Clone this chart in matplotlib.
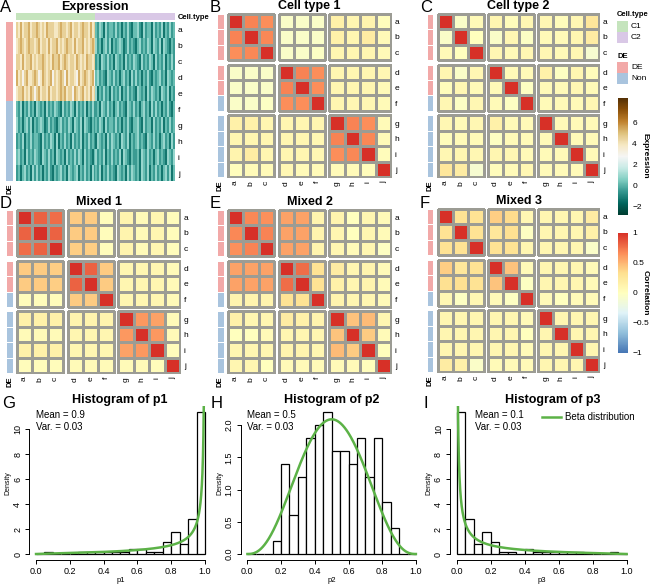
import math
import numpy as np
import matplotlib
matplotlib.use("Agg")
import matplotlib.pyplot as plt
from matplotlib.colors import LinearSegmentedColormap, ListedColormap, Normalize
from matplotlib.cm import ScalarMappable

plt.rcParams['font.family'] = ['Liberation Sans', 'DejaVu Sans']

# ---------------- data ----------------
row_names = list("abcdefghij")
row_groups = [3, 3, 4]
de_status = [0, 0, 0, 0, 0, 1, 1, 1, 1, 1]   # 0 = DE, 1 = Non

# expression, digit codes looked up in expr_levels; C1 half then C2 half
expr_levels = [-1.3, -0.5, 0.2, 0.9, 1.7, 2.2, 3.0, 3.8, 4.5, 5.3]
expr_c1 = [
    "8797889788 9878798887 7898878978 8789887978",
    "7898789887 8978879788 9787898879 7889787898",
    "8879788978 7889878798 8978987887 9878798878",
    "9786897789 8679878968 7898697887 6978987896",
    "7889787986 8978879788 7898978869 8789787978",
    "2130213120 3212031213 2103121320 3121302131",
    "3120231302 1232013121 0231213203 2130321021",
    "1213021312 2103121320 3021312031 2130213121",
    "2312031213 2103213120 3212031213 1320312102",
    "1202312031 3120213102 1231203212 3021312031",
]
expr_c2 = [
    "2132031221 3120213102 2310312203 1213021312",
    "3120231302 1232013121 0231213203 2130321021",
    "1203213120 3212031213 2103121320 3121302131",
    "2312103213 1202312031 3120213102 1231203212",
    "3021312031 2130213121 0321203132 1203213021",
    "1203213120 2312103213 1202312031 3120213102",
    "2132031221 3120213102 2310312203 1213021312",
    "0321203132 1203213021 2312103213 1202312031",
    "3121302131 2130321021 1203213120 2312103213",
    "2130213121 0321203132 1203213021 3120231302",
]

corr_celltype1 = [
    [1.00, 0.70, 0.66, -0.05, -0.05, -0.05, 0.15, 0.10, 0.12, 0.02],
    [0.70, 1.00, 0.68, -0.05, -0.05, -0.05, 0.15, 0.10, 0.20, 0.05],
    [0.66, 0.68, 1.00, -0.05, -0.05, -0.03, 0.10, 0.10, 0.10, 0.05],
    [-0.05, -0.05, -0.05, 1.00, 0.70, 0.66, 0.10, 0.10, 0.10, 0.08],
    [-0.05, -0.05, -0.05, 0.70, 1.00, 0.66, 0.10, 0.10, 0.10, 0.05],
    [-0.05, -0.05, -0.03, 0.66, 0.66, 1.00, 0.10, 0.08, 0.08, 0.05],
    [0.15, 0.15, 0.10, 0.10, 0.10, 0.10, 1.00, 0.70, 0.66, 0.05],
    [0.10, 0.10, 0.10, 0.10, 0.10, 0.08, 0.70, 1.00, 0.68, 0.05],
    [0.12, 0.20, 0.10, 0.10, 0.10, 0.08, 0.66, 0.68, 1.00, 0.03],
    [0.02, 0.05, 0.05, 0.08, 0.05, 0.05, 0.05, 0.05, 0.03, 1.00],
]
corr_celltype2 = [
    [1.00, -0.05, 0.05, 0.10, 0.03, 0.08, 0.08, 0.03, 0.08, 0.25],
    [-0.05, 1.00, 0.00, -0.05, 0.08, -0.03, 0.05, 0.05, 0.10, 0.20],
    [0.05, 0.00, 1.00, 0.08, 0.05, 0.08, 0.08, 0.05, 0.08, -0.10],
    [0.10, -0.05, 0.08, 1.00, 0.05, 0.05, 0.15, -0.02, 0.10, 0.03],
    [0.03, 0.08, 0.05, 0.05, 1.00, -0.02, 0.05, 0.05, 0.08, 0.05],
    [0.08, -0.03, 0.08, 0.05, -0.02, 1.00, 0.05, 0.05, 0.05, 0.08],
    [0.08, 0.05, 0.08, 0.15, 0.05, 0.05, 1.00, 0.05, 0.05, 0.05],
    [0.03, 0.05, 0.05, -0.02, 0.05, 0.05, 0.05, 1.00, 0.05, 0.05],
    [0.08, 0.10, 0.08, 0.10, 0.08, 0.05, 0.05, 0.05, 1.00, 0.05],
    [0.25, 0.20, -0.10, 0.03, 0.05, 0.08, 0.05, 0.05, 0.05, 1.00],
]
corr_mixed1 = [
    [1.00, 0.82, 0.78, 0.42, 0.42, 0.03, 0.12, 0.05, 0.10, 0.03],
    [0.82, 1.00, 0.82, 0.42, 0.42, 0.03, 0.12, 0.05, 0.10, 0.03],
    [0.78, 0.82, 1.00, 0.40, 0.40, 0.03, 0.12, 0.05, 0.10, 0.03],
    [0.42, 0.42, 0.40, 1.00, 0.82, 0.42, 0.10, 0.10, 0.10, 0.05],
    [0.42, 0.42, 0.40, 0.82, 1.00, 0.42, 0.10, 0.10, 0.10, 0.05],
    [0.03, 0.03, 0.03, 0.42, 0.42, 1.00, 0.10, 0.10, 0.10, 0.05],
    [0.15, 0.15, 0.15, 0.12, 0.12, 0.12, 1.00, 0.62, 0.58, 0.05],
    [0.05, 0.05, 0.05, 0.10, 0.10, 0.10, 0.62, 1.00, 0.62, 0.05],
    [0.15, 0.15, 0.15, 0.10, 0.10, 0.10, 0.58, 0.62, 1.00, 0.03],
    [0.03, 0.03, 0.03, 0.05, 0.05, 0.05, 0.05, 0.05, 0.03, 1.00],
]
corr_mixed2 = [
    [1.00, 0.68, 0.65, 0.58, 0.58, 0.12, 0.12, 0.00, 0.10, 0.05],
    [0.68, 1.00, 0.70, 0.58, 0.58, 0.12, 0.10, 0.00, 0.10, 0.05],
    [0.65, 0.70, 1.00, 0.58, 0.58, 0.12, 0.10, 0.05, 0.10, -0.02],
    [0.58, 0.58, 0.58, 1.00, 0.78, 0.30, 0.20, 0.10, 0.12, 0.05],
    [0.58, 0.58, 0.58, 0.78, 1.00, 0.30, 0.15, 0.10, 0.12, 0.05],
    [0.12, 0.12, 0.12, 0.30, 0.30, 1.00, 0.12, 0.10, 0.10, 0.05],
    [0.15, 0.10, 0.10, 0.20, 0.15, 0.12, 1.00, 0.45, 0.48, 0.10],
    [0.00, 0.00, 0.05, 0.10, 0.10, 0.10, 0.45, 1.00, 0.42, 0.05],
    [0.10, 0.10, 0.10, 0.12, 0.12, 0.10, 0.48, 0.42, 1.00, 0.02],
    [0.10, 0.10, 0.00, 0.05, 0.05, 0.05, 0.05, 0.05, 0.02, 1.00],
]
corr_mixed3 = [
    [1.00, 0.30, 0.30, 0.40, 0.35, 0.08, 0.10, 0.10, 0.10, 0.20],
    [0.30, 1.00, 0.30, 0.25, 0.32, -0.02, 0.10, 0.10, 0.10, 0.15],
    [0.30, 0.30, 1.00, 0.30, 0.30, 0.10, 0.10, 0.10, 0.10, -0.05],
    [0.40, 0.25, 0.30, 1.00, 0.45, 0.05, 0.10, 0.10, 0.10, 0.05],
    [0.32, 0.32, 0.30, 0.45, 1.00, -0.02, 0.10, 0.10, 0.10, 0.05],
    [0.08, -0.02, 0.08, 0.05, -0.02, 1.00, 0.05, 0.00, 0.05, 0.05],
    [0.10, 0.10, 0.10, 0.10, 0.10, 0.05, 1.00, 0.10, 0.10, 0.10],
    [0.10, 0.10, 0.10, 0.10, 0.10, 0.00, 0.10, 1.00, 0.10, 0.10],
    [0.10, 0.10, 0.10, 0.10, 0.10, 0.05, 0.10, 0.10, 1.00, 0.10],
    [0.20, 0.15, -0.05, 0.05, 0.05, 0.05, 0.10, 0.10, 0.10, 1.00],
]

bin_edges = [0.0, 0.05, 0.1, 0.15, 0.2, 0.25, 0.3, 0.35, 0.4, 0.45, 0.5,
             0.55, 0.6, 0.65, 0.7, 0.75, 0.8, 0.85, 0.9, 0.95, 1.0]
p1_density = [0.0, 0.2, 0.0, 0.0, 0.0, 0.2, 0.2, 0.2, 0.2, 0.2,
              0.2, 0.4, 0.4, 0.2, 0.2, 1.0, 1.8, 0.8, 2.8, 11.4]
p2_density = [0.0, 0.0, 0.0, 0.2, 1.4, 0.6, 1.2, 1.8, 2.0, 2.2,
              1.6, 1.6, 1.4, 1.8, 1.2, 1.8, 0.8, 0.4, 0.0, 0.0]
p3_density = [11.4, 2.8, 0.8, 1.8, 1.0, 0.2, 0.2, 0.0, 0.4, 0.2,
              0.2, 0.2, 0.2, 0.2, 0.2, 0.0, 0.0, 0.0, 0.2, 0.0]
p_means = [0.9, 0.5, 0.1]
p_var = 0.03

# ---------------- colours ----------------
col_de, col_non = "#f2a9a8", "#a9c4de"
col_c1, col_c2 = "#c5e4bd", "#d9c8e6"
grid_col = "#9c9c94"
beta_col = "#5cb247"
corr_cmap = LinearSegmentedColormap.from_list(
    "rdylbu7", ["#4575B4", "#91BFDB", "#E0F3F8", "#FFFFBF", "#FEE090", "#FC8D59", "#D73027"])
corr_norm = Normalize(-1, 1)
expr_cmap = plt.get_cmap("BrBG_r")
expr_norm = Normalize(-2.8, 8.3)

W, H = 650, 585
fig = plt.figure(figsize=(6.5, 5.85), dpi=100)


def box(x0, y0, x1, y1):
    return fig.add_axes([x0 / W, 1 - y1 / H, (x1 - x0) / W, (y1 - y0) / H])


def ftext(x, y, s, **kw):
    fig.text(x / W, 1 - y / H, s, **kw)


def clean(ax):
    for s in ax.spines.values():
        s.set_visible(False)
    ax.tick_params(length=0, labelsize=6, pad=2)


# ---------------- panel A: expression ----------------
expr = np.array([[expr_levels[int(c)] for c in (a + b).replace(" ", "")]
                 for a, b in zip(expr_c1, expr_c2)])
n_c1 = len(expr_c1[0].replace(" ", ""))
n_cols = expr.shape[1]

ax = box(16, 22, 175, 181)
ax.imshow(expr, aspect="auto", cmap=expr_cmap, norm=expr_norm, interpolation="nearest")
clean(ax)
ax.set_xticks([])
ax.yaxis.tick_right()
ax.set_yticks(range(10))
ax.set_yticklabels(row_names)

ax = box(16, 13, 175, 20)
cell_type = np.array([[0] * n_c1 + [1] * (n_cols - n_c1)])
ax.imshow(cell_type, aspect="auto", cmap=ListedColormap([col_c1, col_c2]), vmin=0, vmax=1,
          interpolation="nearest")
clean(ax)
ax.set_xticks([])
ax.yaxis.tick_right()
ax.set_yticks([0])
ax.set_yticklabels(["Cell.type"], fontweight="bold", fontsize=5.5)

ax = box(6, 22, 13, 181)
ax.imshow(np.array(de_status)[:, None], aspect="auto", cmap=ListedColormap([col_de, col_non]),
          vmin=0, vmax=1, interpolation="nearest")
clean(ax)
ax.set_yticks([])
ax.set_xticks([0])
ax.set_xticklabels(["DE"], rotation=90, fontweight="bold", fontsize=5.5)

ftext(95, 7, "Expression", fontsize=9, fontweight="bold", ha="center", va="center")
ftext(0, 8, "A", fontsize=12, ha="left", va="center")


# ---------------- correlation panels ----------------
def corr_panel(mat, dx0, dx1, x0, x1, y0, y1, title, letter, lx):
    mat = np.array(mat)
    gap = 0.28
    starts, pos = [], 0.0
    for g in row_groups:
        starts.append(pos)
        pos += g + gap
    total = pos - gap
    idx = np.cumsum([0] + row_groups)
    centers = [starts[k] + i + 0.5 for k, g in enumerate(row_groups) for i in range(g)]

    ax = box(x0, y0, x1, y1)
    for gi in range(3):
        for gj in range(3):
            X = np.arange(row_groups[gj] + 1) + starts[gj]
            Y = np.arange(row_groups[gi] + 1) + starts[gi]
            ax.pcolormesh(X, Y, mat[idx[gi]:idx[gi + 1], idx[gj]:idx[gj + 1]],
                          cmap=corr_cmap, norm=corr_norm, edgecolors=grid_col, linewidth=0.8)
    ax.set_xlim(-0.05, total + 0.05)
    ax.set_ylim(total + 0.05, -0.05)
    clean(ax)
    ax.yaxis.tick_right()
    ax.set_yticks(centers)
    ax.set_yticklabels(row_names)
    ax.set_xticks(centers)
    ax.set_xticklabels(row_names, rotation=90)

    ax = box(dx0, y0, dx1, y1)
    de = np.array(de_status)
    for gi in range(3):
        Y = np.arange(row_groups[gi] + 1) + starts[gi]
        ax.pcolormesh([0, 1], Y, de[idx[gi]:idx[gi + 1], None],
                      cmap=ListedColormap([col_de, col_non]), vmin=0, vmax=1,
                      edgecolors="white", linewidth=0.6)
    ax.set_xlim(0, 1)
    ax.set_ylim(total + 0.05, -0.05)
    clean(ax)
    ax.set_yticks([])
    ax.set_xticks([0.5])
    ax.set_xticklabels(["DE"], rotation=90, fontweight="bold", fontsize=5.5)

    ftext((x0 + x1) / 2, y0 - 7, title, fontsize=9, fontweight="bold", ha="center", va="center")
    ftext(lx, y0 - 5, letter, fontsize=12, ha="left", va="center")


corr_panel(corr_celltype1, 217, 224, 227, 392, 13, 178, "Cell type 1", "B", 210)
corr_panel(corr_celltype2, 427, 433, 437, 600, 13, 178, "Cell type 2", "C", 420)
corr_panel(corr_mixed1, 6, 13, 16, 181, 209, 374, "Mixed 1", "D", 0)
corr_panel(corr_mixed2, 217, 224, 227, 392, 209, 374, "Mixed 2", "E", 210)
corr_panel(corr_mixed3, 427, 433, 437, 600, 208, 373, "Mixed 3", "F", 420)

# ---------------- legends ----------------
ftext(617, 15, "Cell.type", fontsize=5.5, fontweight="bold", ha="left", va="center")
for lab, col, yy in [("C1", col_c1, 21), ("C2", col_c2, 32)]:
    lax = box(617, yy, 628, yy + 11)
    lax.set_facecolor(col)
    lax.set_xticks([]); lax.set_yticks([])
    for s in lax.spines.values():
        s.set_visible(False)
    ftext(631, yy + 5.5, lab, fontsize=6, ha="left", va="center")
ftext(617, 56, "DE", fontsize=5.5, fontweight="bold", ha="left", va="center")
for lab, col, yy in [("DE", col_de, 62), ("Non", col_non, 73)]:
    lax = box(617, yy, 628, yy + 11)
    lax.set_facecolor(col)
    lax.set_xticks([]); lax.set_yticks([])
    for s in lax.spines.values():
        s.set_visible(False)
    ftext(631, yy + 5.5, lab, fontsize=6, ha="left", va="center")

cax = box(618, 98, 628, 215)
cb = fig.colorbar(ScalarMappable(norm=expr_norm, cmap=expr_cmap), cax=cax)
cb.outline.set_visible(False)
cb.set_ticks([-2, 0, 2, 4, 6])
cb.set_ticklabels(["\u22122", "0", "2", "4", "6"])
cax.tick_params(length=0, labelsize=6, pad=3)
ftext(645, 156, "Expression", fontsize=6, fontweight="bold", rotation=-90, ha="center", va="center")

cax = box(618, 233, 628, 353)
cb = fig.colorbar(ScalarMappable(norm=corr_norm, cmap=corr_cmap), cax=cax)
cb.outline.set_visible(False)
cb.set_ticks([-1, -0.5, 0, 0.5, 1])
cb.set_ticklabels(["\u22121", "\u22120.5", "0", "0.5", "1"])
cax.tick_params(length=0, labelsize=6, pad=3)
ftext(645, 293, "Correlation", fontsize=6, fontweight="bold", rotation=-90, ha="center", va="center")


# ---------------- histograms ----------------
def beta_pdf(x, m, v):
    s = m * (1 - m) / v - 1
    a, b = m * s, (1 - m) * s
    lb = math.lgamma(a) + math.lgamma(b) - math.lgamma(a + b)
    return np.exp((a - 1) * np.log(x) + (b - 1) * np.log(1 - x) - lb)


hist_specs = [
    (p1_density, "p1", "G", 29.2, 211.8, 2, (-0.48, 11.87), [0, 2, 4, 6, 8, 10], 0, 120),
    (p2_density, "p2", "H", 240.6, 422.7, 211, (-0.093, 2.295), [0, 0.5, 1.0, 1.5, 2.0], 1, 332),
    (p3_density, "p3", "I", 449.9, 633.5, 424, (-0.48, 11.87), [0, 2, 4, 6, 8, 10], 2, 553),
]
xs = np.linspace(0.0005, 0.9995, 1200)
for dens, name, letter, hx0, hx1, lx, ylim, yt, k, tx in hist_specs:
    ax = box(hx0, 406, hx1, 560)
    ax.bar(bin_edges[:-1], dens, width=0.05, align="edge", color="white",
           edgecolor="black", linewidth=0.9)
    ax.plot(xs, beta_pdf(xs, p_means[k], p_var), color=beta_col, lw=1.8)
    ax.set_xlim(-0.04, 1.04)
    ax.set_ylim(*ylim)
    for s in ["top", "right"]:
        ax.spines[s].set_visible(False)
    ax.spines["left"].set_bounds(yt[0], yt[-1])
    ax.spines["bottom"].set_bounds(0, 1)
    ax.spines["left"].set_linewidth(0.7)
    ax.spines["bottom"].set_linewidth(0.7)
    ax.set_xticks([0, 0.2, 0.4, 0.6, 0.8, 1.0])
    ax.set_xticklabels(["0.0", "0.2", "0.4", "0.6", "0.8", "1.0"])
    ax.set_yticks(yt)
    if k == 1:
        ax.set_yticklabels(["%.1f" % v for v in yt], rotation=90, va="center")
    else:
        ax.set_yticklabels([str(v) for v in yt], rotation=90, va="center")
    ax.tick_params(length=3, width=0.7, labelsize=6.5, pad=2)
    ax.set_xlabel(name, fontsize=5.5, labelpad=1)
    ax.set_ylabel("Density", fontsize=5, labelpad=1)
    ftext(tx, 400, "Histogram of " + name, fontsize=9, fontweight="bold", ha="center", va="center")
    ftext(lx, 403, letter, fontsize=12, ha="left", va="center")
    mx = hx0 + 0.04 * (hx1 - hx0) / 1.08 + (0 if k < 2 else 18)
    ftext(mx, 415, "Mean = %s" % p_means[k], fontsize=7, ha="left", va="center")
    ftext(mx, 427, "Var. = %s" % p_var, fontsize=7, ha="left", va="center")
    if k == 2:
        ax.legend([ax.lines[0]], ["Beta distribution"], loc="center left", frameon=False,
                  bbox_to_anchor=(542 / W, 1 - 417 / H), bbox_transform=fig.transFigure,
                  fontsize=7, handlelength=2.0, handletextpad=0.4, borderpad=0, borderaxespad=0)

fig.savefig("out.png", dpi=100)
